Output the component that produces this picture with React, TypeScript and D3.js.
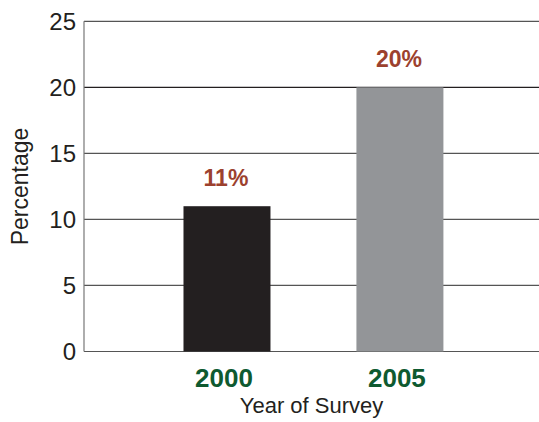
import { useEffect, useRef } from "react";
import * as d3 from "d3";

const years = ["2000", "2005"];
const percentages = [11, 20];
const valueLabels = ["11%", "20%"];
const yTicks = [0, 5, 10, 15, 20, 25];

const W = 539;
const H = 422;

export default function App() {
  const svgRef = useRef<SVGSVGElement>(null);

  useEffect(() => {
    if (!svgRef.current) return;
    const svg = d3.select(svgRef.current);
    svg.selectAll("*").remove();

    const left = 84;
    const right = 539;
    const top = 21.3;
    const bottom = 351.5;
    const font = "'Liberation Sans', Arial, Helvetica, sans-serif";

    const x = d3
      .scaleBand()
      .domain(years)
      .range([left, right])
      .paddingInner(0.497)
      .paddingOuter(0.564)
      .align(0.51);

    const y = d3.scaleLinear().domain([0, 25]).range([bottom, top]);

    // Grid lines
    svg
      .append("g")
      .selectAll("line")
      .data(yTicks)
      .join("line")
      .attr("x1", left)
      .attr("x2", right)
      .attr("y1", (d) => y(d))
      .attr("y2", (d) => y(d))
      .attr("stroke", (d) => (d === 20 ? "#231f20" : "#555"))
      .attr("stroke-width", 1.2);

    // Y axis line
    svg
      .append("line")
      .attr("x1", left)
      .attr("x2", left)
      .attr("y1", top)
      .attr("y2", bottom)
      .attr("stroke", "#777")
      .attr("stroke-width", 1.2);

    // Y tick labels
    svg
      .append("g")
      .selectAll("text")
      .data(yTicks)
      .join("text")
      .attr("x", 76)
      .attr("y", (d) => y(d) + 8.5)
      .attr("text-anchor", "end")
      .attr("font-family", font)
      .attr("font-size", 24)
      .attr("fill", "#231f20")
      .text((d) => d);

    // Bars
    svg
      .append("g")
      .selectAll("rect")
      .data(years)
      .join("rect")
      .attr("x", (d) => x(d) || 0)
      .attr("y", (_, i) => y(percentages[i]))
      .attr("width", x.bandwidth())
      .attr("height", (_, i) => bottom - y(percentages[i]))
      .attr("fill", (_, i) => (i === 0 ? "#231f20" : "#939598"));

    // Value labels
    svg
      .append("g")
      .selectAll("text")
      .data(years)
      .join("text")
      .attr("x", (d) => (x(d) || 0) + x.bandwidth() / 2 - 1)
      .attr("y", (_, i) => y(percentages[i]) - 20)
      .attr("text-anchor", "middle")
      .attr("font-family", font)
      .attr("font-weight", "bold")
      .attr("font-size", 23)
      .attr("fill", "#9c412e")
      .text((_, i) => valueLabels[i]);

    // X category labels
    svg
      .append("g")
      .selectAll("text")
      .data(years)
      .join("text")
      .attr("x", (d) => (x(d) || 0) + x.bandwidth() / 2 - 3)
      .attr("y", 387)
      .attr("text-anchor", "middle")
      .attr("font-family", font)
      .attr("font-weight", "bold")
      .attr("font-size", 26)
      .attr("fill", "#0e5a30")
      .text((d) => d);

    // Axis titles
    svg
      .append("text")
      .attr("x", (left + right) / 2)
      .attr("y", 413)
      .attr("text-anchor", "middle")
      .attr("font-family", font)
      .attr("font-size", 22)
      .attr("fill", "#231f20")
      .text("Year of Survey");

    svg
      .append("text")
      .attr("transform", `translate(28,186.5) rotate(-90)`)
      .attr("text-anchor", "middle")
      .attr("font-family", font)
      .attr("font-size", 23)
      .attr("fill", "#231f20")
      .text("Percentage");
  }, []);

  return (
    <svg
      ref={svgRef}
      width={W}
      height={H}
      style={{ position: "absolute", left: 0, top: 0, background: "#fff" }}
    />
  );
}
